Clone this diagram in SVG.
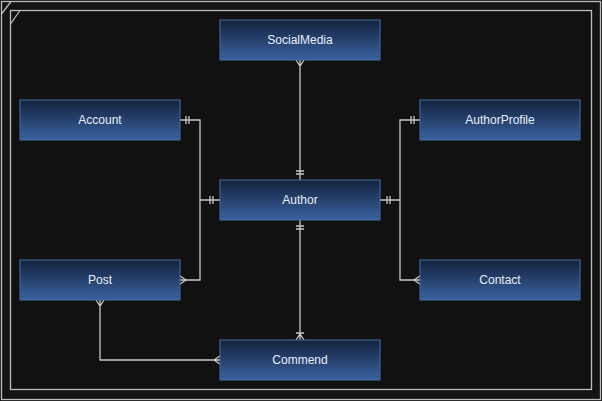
<svg xmlns="http://www.w3.org/2000/svg" width="602" height="401" viewBox="0 0 602 401">
<style>
.box{fill:url(#g);stroke:#4a6da3;stroke-width:1}
.lbl{font-family:"Liberation Sans",Arial,sans-serif;font-size:12px;fill:#e8eef8;text-anchor:middle;dominant-baseline:central}
.c{fill:none;stroke:#c8c8c8;stroke-width:1.3}
</style>
<defs>
<linearGradient id="g" x1="0" y1="0" x2="0" y2="1">
<stop offset="0" stop-color="#13223f"/>
<stop offset="1" stop-color="#3a62a0"/>
</linearGradient>
</defs>
<rect width="602" height="401" fill="#141414"/>
<rect x="1.5" y="1.5" width="599" height="398" fill="none" stroke="#bdbdbd" stroke-width="1.3"/>
<rect x="10.5" y="10.5" width="581" height="379" fill="#111" stroke="#bdbdbd" stroke-width="1.3"/>
<path d="M1.5 14 L11 1.5 M10.5 24 L20 10.5" stroke="#bdbdbd" stroke-width="1.3"/>
<g id="connectors" class="c">
<path d="M180 120 H200 V280 H180 M200 200 H220"/>
<path d="M186 116 v8 M189 116 v8 M210 196 v8 M213 196 v8"/>
<path d="M180 276 L186 280 L180 284"/>
<path d="M420 120 H400 V280 H420 M400 200 H380"/>
<path d="M414 116 v8 M411 116 v8 M390 196 v8 M387 196 v8"/>
<path d="M420 276 L414 280 L420 284"/>
<path d="M300 60 V180 M296 174 h8 M296 171 h8 M296 60 L300 66 L304 60"/>
<path d="M300 220 V340 M296 226 h8 M296 229 h8 M296 340 L300 334 L304 340 M296 333 h8"/>
<path d="M100 300 V360 H220 M96 300 L100 306 L104 300 M220 356 L214 360 L220 364"/>
</g>
<g id="SocialMedia"><rect class="box" x="220" y="20" width="160" height="40"/><text class="lbl" x="300" y="40">SocialMedia</text></g>
<g id="Account"><rect class="box" x="20" y="100" width="160" height="40"/><text class="lbl" x="100" y="120">Account</text></g>
<g id="AuthorProfile"><rect class="box" x="420" y="100" width="160" height="40"/><text class="lbl" x="500" y="120">AuthorProfile</text></g>
<g id="Author"><rect class="box" x="220" y="180" width="160" height="40"/><text class="lbl" x="300" y="200">Author</text></g>
<g id="Post"><rect class="box" x="20" y="260" width="160" height="40"/><text class="lbl" x="100" y="280">Post</text></g>
<g id="Contact"><rect class="box" x="420" y="260" width="160" height="40"/><text class="lbl" x="500" y="280">Contact</text></g>
<g id="Commend"><rect class="box" x="220" y="340" width="160" height="40"/><text class="lbl" x="300" y="360">Commend</text></g>
</svg>
